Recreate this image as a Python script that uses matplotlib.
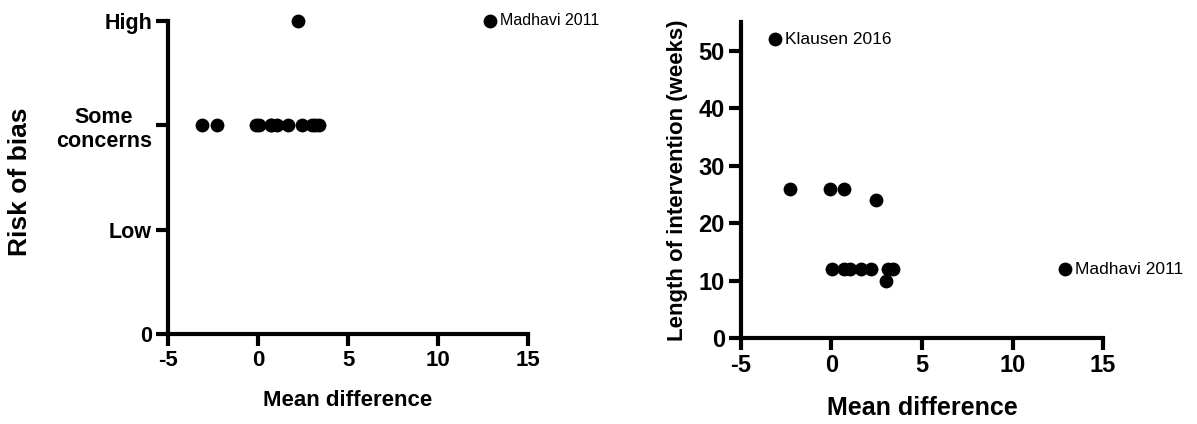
import matplotlib
matplotlib.use("Agg")
import matplotlib.pyplot as plt

plt.rcParams['font.family'] = ['Liberation Sans', 'DejaVu Sans']
plt.rcParams['axes.unicode_minus'] = False

# mean difference per study, risk of bias (0..3) and length of intervention (weeks)
mean_diff = [-3.1, -2.3, -0.1, 0.7, 2.45, 0.05, 0.7, 1.05, 1.65, 2.2, 3.15, 3.4, 3.0, 12.9]
risk_bias = [2, 2, 2, 2, 2, 2, 2, 2, 2, 3, 2, 2, 2, 3]
weeks = [52, 26, 26, 26, 24, 12, 12, 12, 12, 12, 12, 12, 10, 12]
study_names = ['Klausen 2016', '', '', '', '', '', '', '', '', '', '', '', '', 'Madhavi 2011']

rob_ticks = [0, 1, 2, 3]
rob_labels = ['0', 'Low', 'Some\nconcerns', 'High']
x_ticks = [-5, 0, 5, 10, 15]
week_ticks = [0, 10, 20, 30, 40, 50]

fig = plt.figure(figsize=(11.97, 4.24), dpi=100)
ax1 = fig.add_axes([0.1404, 0.2123, 0.3007, 0.7382])
ax2 = fig.add_axes([0.6190, 0.2028, 0.3025, 0.7452])


def style(ax, xsize, ysize):
    for s in ['top', 'right']:
        ax.spines[s].set_visible(False)
    for s in ['left', 'bottom']:
        ax.spines[s].set_linewidth(3)
    ax.tick_params(width=3, length=8.5, pad=3)
    ax.tick_params(axis='x', labelsize=xsize)
    ax.tick_params(axis='y', labelsize=ysize)
    for lab in ax.get_xticklabels() + ax.get_yticklabels():
        lab.set_fontweight('bold')


# left: risk of bias
ax1.scatter(mean_diff, risk_bias, s=80, color='black', zorder=3, clip_on=False)
ax1.set_xlim(-5, 15)
ax1.set_ylim(0, 3)
ax1.set_xticks(x_ticks)
ax1.set_yticks(rob_ticks)
ax1.set_yticklabels(rob_labels, multialignment='center')
style(ax1, 16, 15.5)
ax1.set_xlabel('Mean difference', fontsize=16, fontweight='bold')
ax1.xaxis.set_label_coords(0.5, -0.18)
ax1.set_ylabel('Risk of bias', fontsize=19, fontweight='bold')
ax1.yaxis.set_label_coords(-0.378, 0.486)
for x, y, name in zip(mean_diff, risk_bias, study_names):
    if name == 'Madhavi 2011':
        ax1.annotate(name, (x, y), xytext=(7, 0), textcoords='offset points',
                     va='center', fontsize=11.5, annotation_clip=False)

# right: length of intervention
ax2.scatter(mean_diff, weeks, s=80, color='black', zorder=3, clip_on=False)
ax2.set_xlim(-5, 15)
ax2.set_ylim(0, 55)
ax2.set_xticks(x_ticks)
ax2.set_yticks(week_ticks)
style(ax2, 17, 17)
ax2.set_xlabel('Mean difference', fontsize=18, fontweight='bold')
ax2.xaxis.set_label_coords(0.5, -0.185)
ax2.set_ylabel('Length of intervention (weeks)', fontsize=16, fontweight='bold')
ax2.yaxis.set_label_coords(-0.146, 0.5)
for x, y, name in zip(mean_diff, weeks, study_names):
    if name:
        ax2.annotate(name, (x, y), xytext=(7, 0), textcoords='offset points',
                     va='center', fontsize=12.5, annotation_clip=False)

fig.savefig('out.png', dpi=100, facecolor='white')
